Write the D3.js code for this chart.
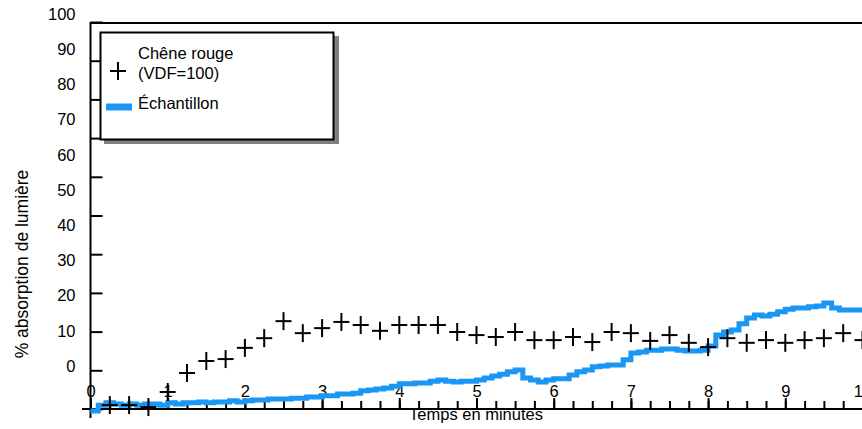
<!DOCTYPE html>
<html>
<head>
<meta charset="utf-8">
<script src="https://cdn.jsdelivr.net/npm/d3@7"></script>
<style>
  html, body { margin: 0; padding: 0; background: #fff; }
  svg { display: block; font-family: "Liberation Sans", Arial, sans-serif; }
</style>
</head>
<body>
<svg id="chart" width="862" height="429"></svg>
<script>
// Red oak reference readings, one every quarter minute
const oakTimes = [0.25,0.5,0.75,1,1.25,1.5,1.75,2,2.25,2.5,2.75,3,3.25,3.5,3.75,4,4.25,4.5,4.75,5,
                  5.25,5.5,5.75,6,6.25,6.5,6.75,7,7.25,7.5,7.75,8,8.25,8.5,8.75,9,9.25,9.5,9.75,10];
const oakValues = [1.0,1.0,0.5,4.4,9.3,12.4,12.9,15.8,18.3,22.7,19.6,20.9,22.5,21.7,20.2,21.7,21.7,21.7,19.9,19.1,
                   18.6,19.9,17.8,17.8,18.6,17.3,19.9,19.6,17.6,19.1,17.1,16.0,18.3,17.1,17.8,17.1,17.8,18.3,19.6,17.8];

// Sample trace, one reading every 0.1 minute from 0 to 10
const sampleTimes = d3.range(0, 101).map(i => i / 10);
const sampleValues = [-0.5,1.0,1.6,1.3,1.0,1.3,1.0,1.3,1.3,1.0,
                      1.6,1.3,1.6,1.6,1.8,1.6,1.8,1.8,2.1,1.8,
                      2.1,2.3,2.3,2.6,2.6,2.6,2.8,2.8,3.1,3.1,
                      3.4,3.4,3.9,3.9,4.1,4.7,4.9,5.2,5.4,5.9,
                      6.5,6.5,6.7,6.7,7.2,7.5,7.2,7.0,7.2,7.2,
                      7.5,8.0,8.5,9.0,9.6,10.1,8.0,7.5,7.0,7.5,
                      7.8,7.8,8.8,9.6,10.1,10.9,11.1,11.4,11.4,12.7,
                      14.5,14.7,15.2,15.2,15.5,15.5,15.2,15.0,15.0,15.2,
                      16.3,19.1,19.9,20.4,22.0,23.5,24.3,24.0,24.5,25.1,
                      25.8,26.1,26.1,26.4,26.6,27.4,26.1,25.6,25.6,25.6,
                      25.8];

const xMajorTicks = d3.range(0, 11);
const xMinorTicks = d3.range(0, 41).map(i => i / 4);
const yTicks = d3.range(0, 101, 10);
const yTickLabels = yTicks.map(String);

const seriesNames = ["Chêne rouge", "(VDF=100)", "Échantillon"];
const xTitle = "Temps en minutes";
const yTitle = "% absorption de lumière";

const blue = "#1a96f5";

const svg = d3.select("#chart");

const x = d3.scaleLinear().domain([0, 10]).range([90.5, 862.5]);
const y = d3.scaleLinear().domain([0, 100]).range([409, 22]);
// tick labels sit on their own, slightly compressed spacing
const yLabel = d3.scaleLinear().domain([0, 100]).range([366, 14]);

// Frame lines
svg.append("line").attr("x1", x(0)).attr("x2", 862).attr("y1", 23).attr("y2", 23)
  .attr("stroke", "#000").attr("stroke-width", 2);
svg.append("line").attr("x1", x(0)).attr("x2", x(0)).attr("y1", 22).attr("y2", 418)
  .attr("stroke", "#000").attr("stroke-width", 2);
svg.append("line").attr("x1", 82).attr("x2", 862).attr("y1", y(0)).attr("y2", y(0))
  .attr("stroke", "#000").attr("stroke-width", 2);

// Y tick marks pointing into the plot
const yTickAxis = svg.append("g").attr("transform", `translate(${x(0)},0)`)
  .call(d3.axisRight(y).tickValues(yTicks).tickSize(12).tickFormat(""));
yTickAxis.select(".domain").remove();
yTickAxis.selectAll(".tick line").attr("stroke-width", 2);

// Y tick labels
const yLabelAxis = svg.append("g").attr("transform", `translate(${x(0)},0)`)
  .call(d3.axisLeft(yLabel).tickValues(yTicks).tickSize(0).tickPadding(15)
    .tickFormat((d, i) => yTickLabels[i]));
yLabelAxis.select(".domain").remove();
yLabelAxis.selectAll("text").attr("font-size", 16.5).attr("fill", "#000")
  .attr("font-family", "Liberation Sans, Arial, sans-serif");

// X minor ticks
const xMinor = svg.append("g").attr("transform", `translate(0,${y(0)})`)
  .call(d3.axisTop(x).tickValues(xMinorTicks).tickSize(8).tickFormat(""));
xMinor.select(".domain").remove();
xMinor.selectAll(".tick line").attr("stroke-width", 2);

// X major ticks with labels
const xMajor = svg.append("g").attr("transform", `translate(0,${y(0)})`)
  .call(d3.axisTop(x).tickValues(xMajorTicks).tickSize(11).tickPadding(1).tickFormat(d3.format("d")));
xMajor.select(".domain").remove();
xMajor.selectAll(".tick line").attr("stroke-width", 2);
xMajor.selectAll("text").attr("font-size", 16.5).attr("fill", "#000")
  .attr("font-family", "Liberation Sans, Arial, sans-serif");

// Axis titles
svg.append("text").attr("x", 476).attr("y", 420).attr("text-anchor", "middle")
  .attr("font-size", 16.5).text(xTitle);
svg.append("text").attr("transform", "translate(28,264) rotate(-90)")
  .attr("text-anchor", "middle").attr("font-size", 17.5).text(yTitle);

// Sample trace
const sampleLine = d3.line()
  .x((d, i) => x(sampleTimes[i]))
  .y(d => y(d))
  .curve(d3.curveStepAfter);
svg.append("path").datum(sampleValues)
  .attr("d", sampleLine)
  .attr("fill", "none").attr("stroke", blue).attr("stroke-width", 5);

// Red oak crosses
const arm = 8;
const crosses = svg.append("g").selectAll("g").data(oakValues).join("g")
  .attr("transform", (d, i) => `translate(${x(oakTimes[i])},${y(d)})`);
crosses.append("line").attr("x1", -arm).attr("x2", arm).attr("stroke", "#000").attr("stroke-width", 2);
crosses.append("line").attr("y1", -arm - 1).attr("y2", arm + 1).attr("stroke", "#000").attr("stroke-width", 2);

// Legend box with drop shadow
const lg = svg.append("g");
lg.append("rect").attr("x", 104).attr("y", 36).attr("width", 235).attr("height", 108).attr("fill", "#808080");
lg.append("rect").attr("x", 100.5).attr("y", 32.5).attr("width", 233).attr("height", 107)
  .attr("fill", "#fff").attr("stroke", "#000").attr("stroke-width", 2);
lg.append("line").attr("x1", 110).attr("x2", 126).attr("y1", 71).attr("y2", 71).attr("stroke", "#000").attr("stroke-width", 2);
lg.append("line").attr("x1", 118).attr("x2", 118).attr("y1", 62).attr("y2", 80).attr("stroke", "#000").attr("stroke-width", 2);
lg.append("text").attr("x", 138).attr("y", 59).attr("font-size", 16.5).text(seriesNames[0]);
lg.append("text").attr("x", 138).attr("y", 79).attr("font-size", 16.5).text(seriesNames[1]);
lg.append("line").attr("x1", 106).attr("x2", 132).attr("y1", 107).attr("y2", 107)
  .attr("stroke", blue).attr("stroke-width", 7);
lg.append("text").attr("x", 138).attr("y", 109).attr("font-size", 16.5).text(seriesNames[2]);
</script>
</body>
</html>
